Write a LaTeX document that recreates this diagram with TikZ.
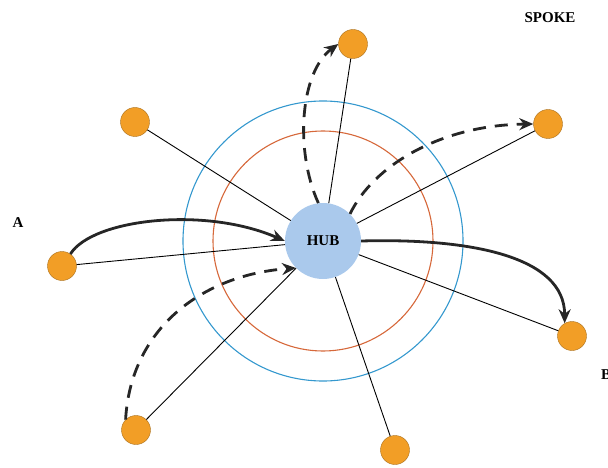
\documentclass[tikz,border=0pt]{standalone}
\usepackage{fontspec}
\setmainfont{Liberation Serif}
\usetikzlibrary{arrows.meta}
\definecolor{spokeorange}{RGB}{242,158,38}
\definecolor{hubblue}{RGB}{170,201,236}
\definecolor{ringblue}{RGB}{52,152,206}
\definecolor{ringred}{RGB}{214,104,58}

\begin{document}
\begin{tikzpicture}[x=1pt, y=-1pt,
		hub/.style={circle, fill=hubblue, minimum size=76pt, inner sep=0pt, font=\fontsize{15}{17}\selectfont\bfseries},
		spoke/.style={circle, fill=spokeorange, draw=spokeorange!70!black, line width=0.4pt, minimum size=29pt, inner sep=0pt},
		lbl/.style={font=\fontsize{15}{17}\selectfont\bfseries},
		ring/.style={line width=1.1pt},
		link/.style={line width=0.9pt},
		flow/.style={line width=2.8pt, draw=black!85, -{Stealth[length=14pt,width=12pt]}},
		dflow/.style={flow, dash pattern=on 13pt off 9pt}]
		\useasboundingbox (0,0) rectangle (608,468);
		\clip (0,0) rectangle (608,468);

		% rings round the hub
		\draw[ring, ringblue] (323,241) circle[radius=140];
		\draw[ring, ringred] (323,241) circle[radius=110];

		\node[hub] (hub) at (323,241) {HUB};
		\node[spoke] (N) at (353,44) {};
		\node[spoke] (NW) at (135,122) {};
		\node[spoke] (NE) at (548,124) {};
		\node[spoke] (W) at (62,266) {};
		\node[spoke] (E) at (572,336) {};
		\node[spoke] (SW) at (136,430) {};
		\node[spoke] (S) at (395,450) {};

		\node[lbl] (spoke_label) at (550,18) {SPOKE};
		\node[lbl] (A_label) at (18,223) {A};
		\node[lbl, anchor=west, inner sep=0pt] (B_label) at (601,375) {B};

		\path[link] (hub) edge (N);
		\path[link] (hub) edge (NW);
		\path[link] (hub) edge (NE);
		\path[link] (hub) edge (W);
		\path[link] (hub) edge (E);
		\path[link] (hub) edge (SW);
		\path[link] (hub) edge (S);

		\draw[flow] (W.55) .. controls +(22,-35) and +(-80,-35) .. (hub.west);
		\draw[flow] (hub.east) .. controls +(109,-3) and +(0,-67) .. (E.120);
		\draw[dflow] (hub.97) .. controls +(-24,-53) and +(-38,28) .. (N.west);
		\draw[dflow] (hub.45) .. controls +(23,-48) and +(-93,1) .. (NE.west);
		\draw[dflow] (SW.135) .. controls +(5,-90) and +(-95,7) .. (hub.225);
	\end{tikzpicture}
\end{document}
